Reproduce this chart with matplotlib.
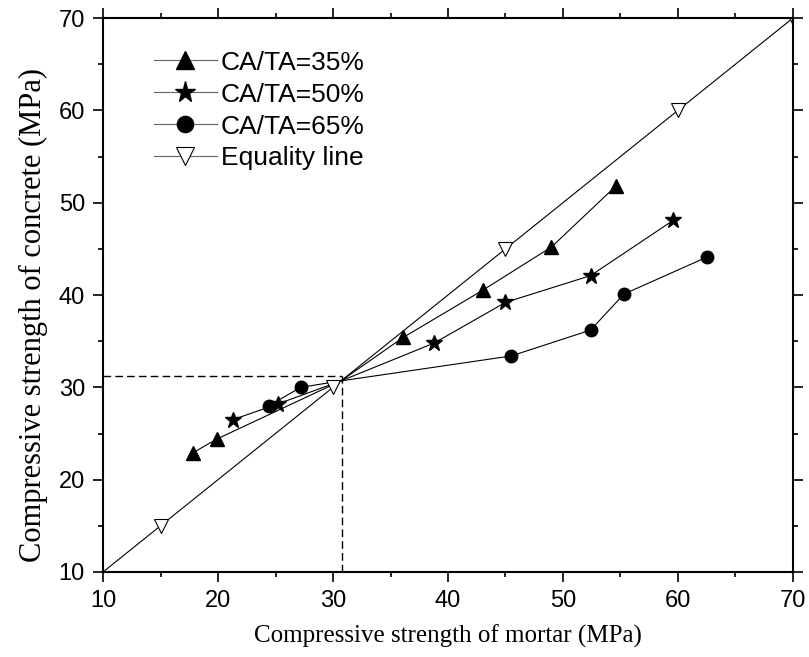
import numpy as np
import matplotlib
matplotlib.use("Agg")
import matplotlib.pyplot as plt
from matplotlib.ticker import MultipleLocator

# data (mortar strength, concrete strength), MPa
# the point (30.7, 30.7) is the shared joint of the three series (no marker)
ca35_x = [17.8, 19.9, 30.7, 36.1, 43.0, 49.0, 54.6]
ca35_y = [22.9, 24.4, 30.7, 35.4, 40.5, 45.2, 51.8]
ca50_x = [21.3, 25.2, 30.7, 38.8, 45.0, 52.4, 59.6]
ca50_y = [26.5, 28.2, 30.7, 34.8, 39.2, 42.1, 48.1]
ca65_x = [24.4, 27.2, 30.7, 45.5, 52.4, 55.3, 62.5]
ca65_y = [28.0, 30.0, 30.7, 33.4, 36.2, 40.1, 44.1]
eq_x = [10, 15, 30, 45, 60, 70]
eq_y = [10, 15, 30, 45, 60, 70]
ref_x = 30.8
ref_y = 31.2

labels = ["CA/TA=35%", "CA/TA=50%", "CA/TA=65%", "Equality line"]

fig = plt.figure(figsize=(8.09, 6.57), dpi=100)
ax = fig.add_axes([103 / 809, 85 / 657, 690 / 809, 554 / 657])

skip = [0, 1, 3, 4, 5, 6]
ax.plot(ca35_x, ca35_y, color="black", lw=0.8, marker="^", ms=10,
        markevery=skip, label=labels[0])
ax.plot(ca50_x, ca50_y, color="black", lw=0.8, marker="*", ms=12,
        markevery=skip, label=labels[1])
ax.plot(ca65_x, ca65_y, color="black", lw=0.8, marker="o", ms=9,
        markevery=skip, label=labels[2])
ax.plot(eq_x, eq_y, color="black", lw=0.8, marker="v", ms=10, mfc="white",
        mec="black", mew=0.8, markevery=[1, 2, 3, 4, 5], label=labels[3])

# dashed guide lines
ax.plot([10, ref_x], [ref_y, ref_y], color="black", lw=1.0, ls=(0, (5.5, 3)))
ax.plot([ref_x, ref_x], [10, ref_y], color="black", lw=1.0, ls=(0, (5.5, 3)))

ax.set_xlim(10, 70)
ax.set_ylim(10, 70)
ax.xaxis.set_major_locator(MultipleLocator(10))
ax.yaxis.set_major_locator(MultipleLocator(10))
ax.xaxis.set_minor_locator(MultipleLocator(5))
ax.yaxis.set_minor_locator(MultipleLocator(5))
ax.tick_params(which="both", direction="out", top=True, right=True,
               labeltop=False, labelright=False, width=1.2)
ax.tick_params(which="major", length=7, pad=6)
ax.tick_params(which="minor", length=3.5)
for s in ax.spines.values():
    s.set_linewidth(1.5)

for t in ax.get_xticklabels() + ax.get_yticklabels():
    t.set_fontfamily("Liberation Sans")
    t.set_fontsize(17)

ax.set_xlabel("Compressive strength of mortar (MPa)", family="Liberation Serif",
              fontsize=18, labelpad=9)
ax.set_ylabel("Compressive strength of concrete (MPa)", family="Liberation Serif",
              fontsize=22)
ax.yaxis.set_label_coords(-0.08, 0.464)

leg = ax.legend(loc="upper left", bbox_to_anchor=(0.058, 0.96), frameon=False,
                prop={"family": "Liberation Sans", "size": 19},
                handlelength=2.4, handletextpad=0.15, labelspacing=0.3,
                markerscale=1.3, borderaxespad=0)
for h in leg.legend_handles:
    h.set_color("#666666")
    h.set_markerfacecolor("black")
    h.set_markeredgecolor("black")
leg.legend_handles[3].set_markerfacecolor("white")

fig.savefig("out.png", dpi=100)
